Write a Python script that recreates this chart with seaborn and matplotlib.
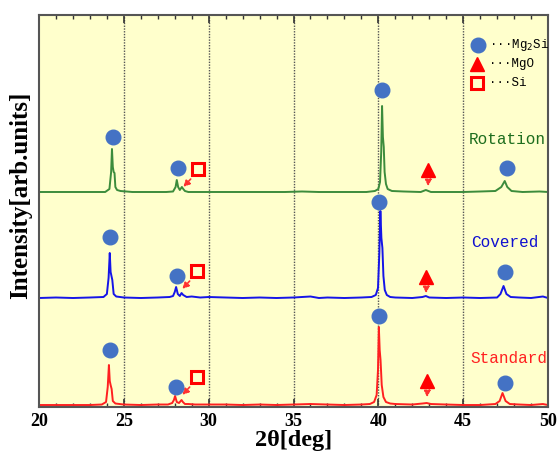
import numpy as np
import pandas as pd
import matplotlib.pyplot as plt
import seaborn as sns
from matplotlib.ticker import MultipleLocator

# ===============================
# XRD traces (2theta in deg, intensity above each baseline)
# ===============================

rot_x = [20, 21, 22, 23, 23.9, 24.15, 24.25, 24.3, 24.35, 24.4, 24.45, 24.5, 24.6, 24.8,
         25.5, 26.5, 27.5, 27.9, 28.05, 28.12, 28.2, 28.3, 28.42, 28.5, 28.6, 28.8,
         29.5, 30.5, 31.5, 33, 34.5, 35.5, 36.5, 37.5, 38.5, 39.3, 39.8, 40.0, 40.1,
         40.17, 40.22, 40.27, 40.32, 40.37, 40.45, 40.55, 40.8, 41.5, 42.5, 42.8, 43.1,
         44, 45, 46, 46.9, 47.25, 47.45, 47.6, 47.85, 48.5, 49.5, 50]
rot_y = [0, 0, 0, 0, 0, 3, 20, 43, 25, 20, 19, 5, 2, 1,
         0, 0, 0, 0.5, 5, 12, 5, 2, 5, 3, 1, 0,
         0, 0, 0, 0, 0, 0.5, 0, 0, 0, 0, 1, 3, 10,
         40, 86, 55, 45, 20, 8, 3, 1, 0.5, 0, 2, 0,
         0, 0, 0.5, 1, 5, 11, 5, 1, 0, 0.5, 0]

cov_x = [20, 21, 22, 23, 23.8, 24.0, 24.1, 24.17, 24.22, 24.27, 24.32, 24.4, 24.55, 25,
         26, 27, 27.7, 27.9, 28.0, 28.08, 28.18, 28.3, 28.4, 28.5, 28.7, 29, 29.5, 30,
         31, 32, 33, 34, 35, 36, 36.5, 37, 38, 39, 39.6, 39.85, 39.98, 40.06, 40.12,
         40.18, 40.24, 40.3, 40.38, 40.5, 40.7, 41, 42, 42.6, 42.8, 43, 44, 45, 46,
         47, 47.2, 47.38, 47.55, 47.8, 48.3, 49, 49.7, 50]
cov_y = [0, 0.5, 0, 0.5, 1, 4, 20, 45, 26, 22, 18, 4, 1.5, 0.5,
         0, 0.5, 1, 2, 6, 11, 4, 2, 5, 3, 1, 1.5, 0.5, 1,
         0.5, 0, 0.5, 0, 0.5, 1.5, 0, 0.5, 0, 0.5, 1, 3, 10, 45, 87,
         60, 50, 22, 8, 3, 1, 0.5, 0, 1, 2, 0.5, 0, 0.5, 0,
         0.5, 4, 12, 4, 1, 0.5, 0, 1.5, 0]

std_x = [20, 21, 22, 23, 23.7, 23.95, 24.05, 24.12, 24.17, 24.22, 24.28, 24.35, 24.5, 25,
         26, 27, 27.6, 27.85, 27.95, 28.02, 28.12, 28.25, 28.4, 28.48, 28.6, 28.8, 29.2,
         30, 31, 32, 33, 34, 35, 36, 37, 38, 39, 39.5, 39.75, 39.9, 39.98, 40.03,
         40.08, 40.13, 40.2, 40.3, 40.45, 40.7, 41, 42, 42.6, 42.85, 43.1, 44, 45, 46,
         46.9, 47.15, 47.32, 47.5, 47.75, 48.3, 49, 49.7, 50]
std_y = [0, 0, 0, 0, 0.5, 3, 18, 40, 24, 20, 16, 4, 1.5, 0.5,
         0, 0.5, 0.5, 2, 5, 9, 3, 2, 5, 3, 1, 1, 0.5,
         0.5, 0.5, 0, 0.5, 0, 0.5, 1, 0.5, 0, 0.5, 1, 3, 10, 35, 78,
         55, 45, 20, 8, 3, 1.5, 1, 0.5, 1.5, 2, 1, 0.5, 0, 0,
         1, 4, 12, 4, 1, 0.5, 0, 1, 0]

traces = ["Rotation", "Covered", "Standard"]
baselines = [215, 109, 2]
line_colors = ["#3C8C3C", "#1515E8", "#FF2020"]
text_colors = ["#1E6E1E", "#1010D0", "#FF2020"]

# phase markers (deg, intensity) for each trace
mg2si_x = [[24.35, 28.18, 40.24, 47.59], [24.18, 28.12, 40.06, 47.47], [24.18, 28.06, 40.06, 47.47]]
mg2si_y = [[270, 239, 317, 239], [170, 131, 205, 135], [57, 20, 91, 24]]
si_x = [29.35, 29.29, 29.29]
si_y = [238, 136, 30]
mgo_x = [42.94, 42.82, 42.88]
mgo_y = [237, 130, 26]

frames = []
for name, xs, ys, base in zip(traces, [rot_x, cov_x, std_x], [rot_y, cov_y, std_y], baselines):
    frames.append(pd.DataFrame({"two_theta": xs, "intensity": np.array(ys) + base, "sample": name}))
df = pd.concat(frames, ignore_index=True)

# ===============================
# Plot
# ===============================

fig = plt.figure(figsize=(5.59, 4.54), dpi=100)
ax = fig.add_axes([0.0698, 0.1035, 0.9105, 0.8635])
ax.set_facecolor("#FFFFCC")

sns.lineplot(data=df, x="two_theta", y="intensity", hue="sample", hue_order=traces,
             palette=line_colors, estimator=None, sort=False, linewidth=1.4,
             legend=False, ax=ax)

for xv in [25, 30, 35, 40, 45]:
    ax.axvline(xv, color="#555555", linestyle=(0, (1, 1)), linewidth=1.0, zorder=1)

circle = "#4472C4"
for i in range(3):
    ax.plot(mg2si_x[i], mg2si_y[i], "o", color=circle, markersize=10.5, linestyle="none", zorder=5)
    ax.plot(si_x[i], si_y[i], "s", markerfacecolor="none", markeredgecolor="#FF0000",
            markeredgewidth=2.2, markersize=9, zorder=5)
    ax.plot(mgo_x[i], mgo_y[i], "^", color="#FF0000", markersize=10, zorder=5)
    # dashed arrows to the small peaks
    ax.annotate("", xy=(si_x[i] - 0.95, si_y[i] - 20), xytext=(si_x[i] - 0.3, si_y[i] - 8),
                arrowprops=dict(arrowstyle="-|>", color="#FF3030", linestyle=(0, (2, 1)),
                                linewidth=1.2, mutation_scale=9))
    ax.annotate("", xy=(mgo_x[i], mgo_y[i] - 19), xytext=(mgo_x[i], mgo_y[i] - 8),
                arrowprops=dict(arrowstyle="-|>", color="#FF3030", linestyle=(0, (2, 1)),
                                linewidth=1.2, mutation_scale=9))

label_y = [267, 164, 49]
label_x = [47.6, 47.47, 47.7]
for name, lx, ly, c in zip(traces, label_x, label_y, text_colors):
    ax.text(lx, ly, name, color=c, fontsize=11.5, family="Liberation Mono",
            ha="center", va="center")

# legend
ax.plot(45.88, 362, "o", color=circle, markersize=10.5)
ax.plot(45.82, 343, "^", color="#FF0000", markersize=10)
ax.plot(45.82, 324, "s", markerfacecolor="none", markeredgecolor="#FF0000",
        markeredgewidth=2.2, markersize=9)
ax.text(46.5, 362, "···Mg$_2$Si", fontsize=9, family="Liberation Mono", va="center")
ax.text(46.5, 343, "···MgO", fontsize=9, family="Liberation Mono", va="center")
ax.text(46.5, 324, "···Si", fontsize=9, family="Liberation Mono", va="center")

ax.set_xlim(20, 50)
ax.set_ylim(0, 392)
ax.xaxis.set_major_locator(MultipleLocator(5))
ax.xaxis.set_minor_locator(MultipleLocator(1))
ax.tick_params(axis="x", which="both", direction="in", top=True, color="#333333")
ax.tick_params(axis="x", which="major", length=6, width=1.2, pad=4)
ax.tick_params(axis="x", which="minor", length=3, width=1)
ax.set_yticks([])
for lab in ax.get_xticklabels():
    lab.set_fontfamily("Liberation Serif")
    lab.set_fontweight("bold")
    lab.set_fontsize(13)

for s in ax.spines.values():
    s.set_color("#555555")
    s.set_linewidth(1.5)

ax.set_xlabel("2θ[deg]", fontsize=17.5, fontweight="bold", family="Liberation Serif", labelpad=0)
ax.set_ylabel("Intensity[arb.units]", fontsize=18, fontweight="bold", family="Liberation Serif")
ax.yaxis.set_label_coords(-0.014, 0.54)

plt.savefig("out.png", dpi=100)
